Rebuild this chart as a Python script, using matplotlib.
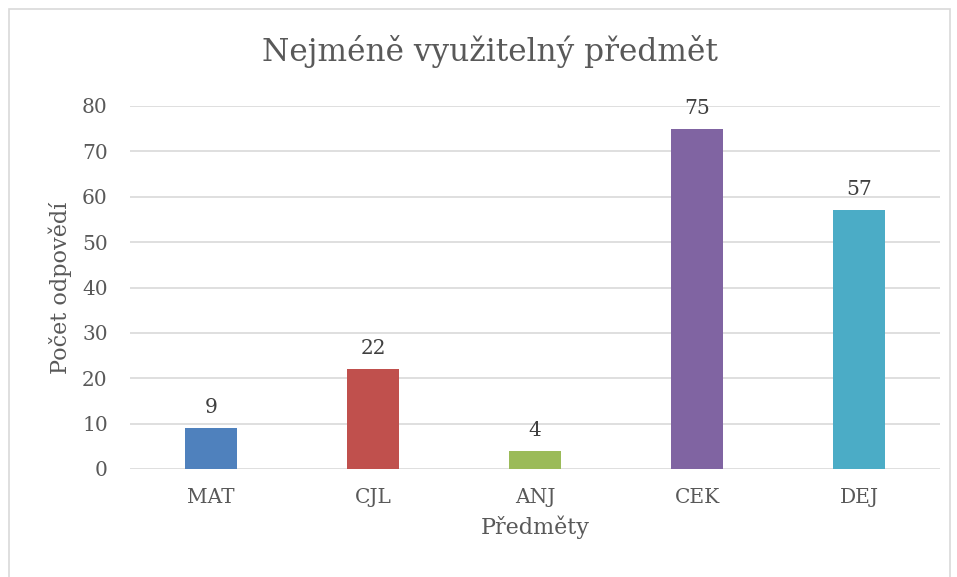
import matplotlib.pyplot as plt
from matplotlib.patches import Rectangle

# data
predmety = ["MAT", "CJL", "ANJ", "CEK", "DEJ"]
pocty = [9, 22, 4, 75, 57]
barvy = ["#4F81BD", "#C0504D", "#9BBB59", "#8064A2", "#4BACC6"]

plt.rcParams['font.family'] = ['DejaVu Serif']
text_col = "#595959"

fig = plt.figure(figsize=(9.57, 5.77), dpi=100)
ax = fig.add_axes([130 / 957, 108 / 577, 810 / 957, 363 / 577])

x = range(len(predmety))
bars = ax.bar(x, pocty, width=0.315, color=barvy, zorder=3)
for b, v in zip(bars, pocty):
    ax.annotate(str(v), (b.get_x() + b.get_width() / 2, v), xytext=(0, 8),
                textcoords="offset points", ha="center", va="bottom",
                fontsize=14.5, color="#404040")

ax.set_xlim(-0.5, len(predmety) - 0.5)
ax.set_ylim(0, 80)
ax.set_yticks(range(0, 81, 10))
ax.set_xticks(list(x))
ax.set_xticklabels(predmety)
ax.tick_params(length=0, labelsize=14.5, colors=text_col)
ax.tick_params(axis='x', pad=14)
ax.tick_params(axis='y', pad=16)
ax.grid(axis='y', color="#D9D9D9", linewidth=1.2, zorder=0)
for s in ax.spines.values():
    s.set_visible(False)

ax.set_xlabel("Předměty", fontsize=16, color=text_col, labelpad=6)
ax.set_ylabel("Počet odpovědí", fontsize=16, color=text_col, labelpad=7)
fig.text(490 / 957, 1 - 52 / 577, "Nejméně využitelný předmět", ha="center",
         va="center", fontsize=22.5, color=text_col)

fig.patches.append(Rectangle((8.5 / 957, -0.05), 941 / 957, 1.05 - 8.5 / 577,
                             transform=fig.transFigure, fill=False,
                             edgecolor="#D9D9D9", linewidth=1.2))

fig.savefig("out.png", dpi=100)
